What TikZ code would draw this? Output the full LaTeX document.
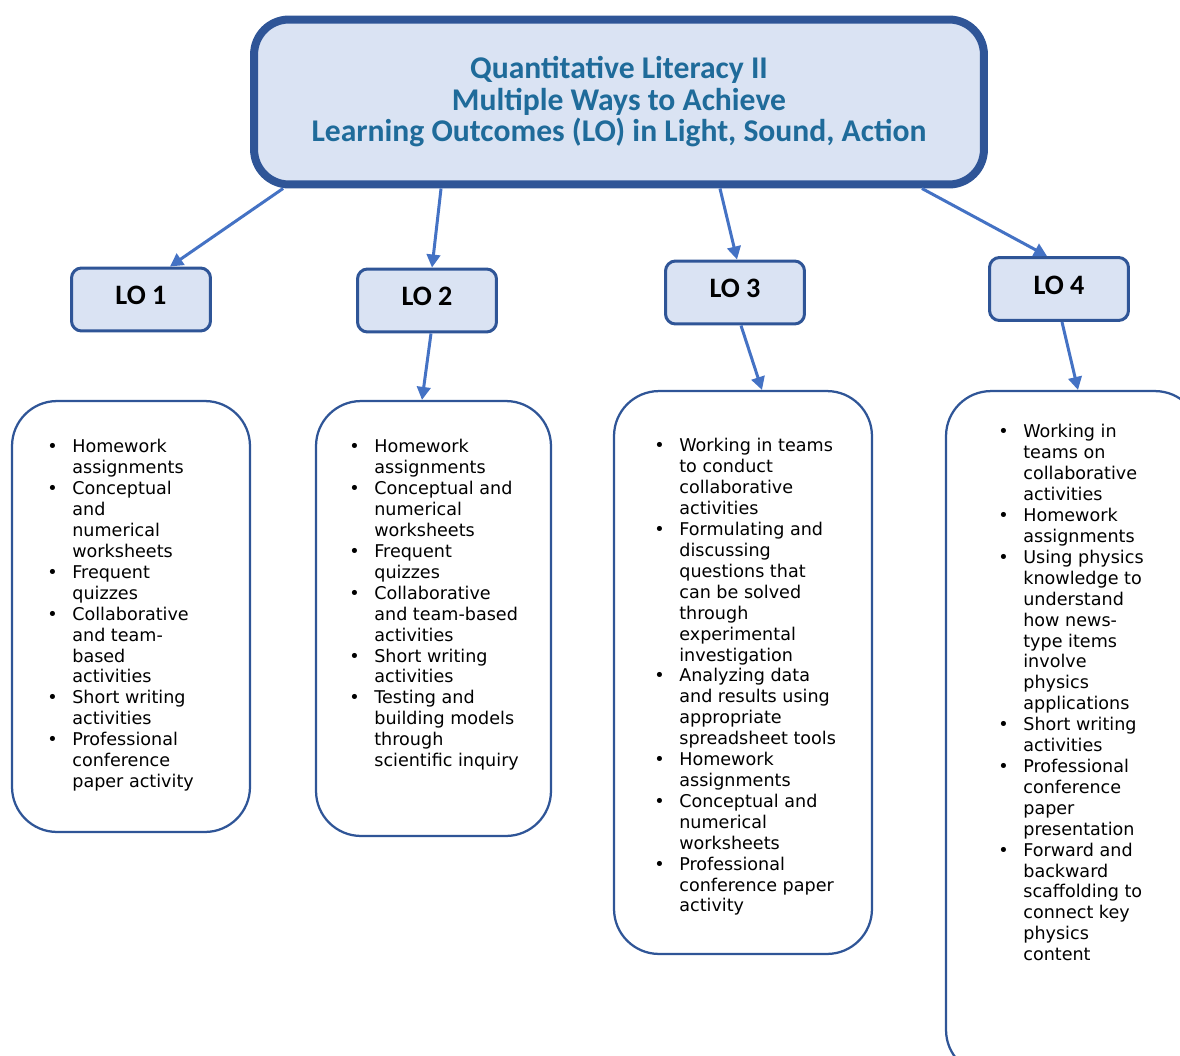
\documentclass[tikz,border=0pt]{standalone}
\usepackage{fontspec}
\setmainfont{DejaVu Sans}
\newfontfamily\calib{Carlito}
\usetikzlibrary{arrows.meta}
\definecolor{titlefill}{HTML}{DAE3F3}
\definecolor{darkblue}{HTML}{2F5597}
\definecolor{arrowblue}{HTML}{4472C4}
\definecolor{titletext}{HTML}{1F6B9A}
\newcommand{\bul}{\textbullet}
\tikzset{
	titlebox/.style={draw=darkblue,fill=titlefill,line width=0.16cm,rounded corners=0.7cm,
		minimum width=14.6cm,minimum height=3.3cm,align=center,text=titletext,
		font=\calib\bfseries\fontsize{18}{17.9}\selectfont},
	lobox/.style={draw=darkblue,fill=titlefill,line width=0.06cm,rounded corners=0.2cm,
		minimum width=2.78cm,minimum height=1.26cm,text depth=4.5pt,font=\calib\bfseries\fontsize{16}{19}\selectfont},
	listbox/.style={draw=darkblue,fill=white,line width=0.045cm,rounded corners=0.9cm},
	listtext/.style={anchor=north west,inner sep=0pt,font=\fontsize{10}{11.9}\selectfont},
	arr/.style={draw=arrowblue,line width=0.06cm,-{Triangle[length=0.26cm,width=0.27cm]}}
}
\begin{document}
\begin{tikzpicture}[x=0.02cm,y=-0.02cm]
	\useasboundingbox (0,0) rectangle (1180,1055);
	\node[titlebox] (title) at (619,102) {Quantitative Literacy II\\Multiple Ways to Achieve\\Learning Outcomes (LO) in Light, Sound, Action};
	\node[lobox] (lo1) at (141,299.5) {LO 1};
	\node[lobox] (lo2) at (427,300.5) {LO 2};
	\node[lobox] (lo3) at (735,292.5) {LO 3};
	\node[lobox] (lo4) at (1059,289) {LO 4};
	\node[listbox,minimum width=4.76cm,minimum height=8.62cm] (b1) at (131,616.5) {};
	\node[listbox,minimum width=4.7cm,minimum height=8.7cm] (b2) at (433.5,618.5) {};
	\node[listbox,minimum width=5.16cm,minimum height=11.26cm] (b3) at (743,672.5) {};
	\node[listbox,minimum width=5.08cm,minimum height=13.68cm] (b4) at (1073,733) {};
	\node[listtext] (t1) at (47,438) {\begin{tabular}{@{}p{0.5cm}@{}l@{}}
		\bul & Homework\\ & assignments\\
		\bul & Conceptual\\ & and\\ & numerical\\ & worksheets\\
		\bul & Frequent\\ & quizzes\\
		\bul & Collaborative\\ & and team-\\ & based\\ & activities\\
		\bul & Short writing\\ & activities\\
		\bul & Professional\\ & conference\\ & paper activity
	\end{tabular}};
	\node[listtext] (t2) at (349,438) {\begin{tabular}{@{}p{0.5cm}@{}l@{}}
		\bul & Homework\\ & assignments\\
		\bul & Conceptual and\\ & numerical\\ & worksheets\\
		\bul & Frequent\\ & quizzes\\
		\bul & Collaborative\\ & and team-based\\ & activities\\
		\bul & Short writing\\ & activities\\
		\bul & Testing and\\ & building models\\ & through\\ & scientific inquiry
	\end{tabular}};
	\node[listtext] (t3) at (654,437) {\begin{tabular}{@{}p{0.5cm}@{}l@{}}
		\bul & Working in teams\\ & to conduct\\ & collaborative\\ & activities\\
		\bul & Formulating and\\ & discussing\\ & questions that\\ & can be solved\\ & through\\ & experimental\\ & investigation\\
		\bul & Analyzing data\\ & and results using\\ & appropriate\\ & spreadsheet tools\\
		\bul & Homework\\ & assignments\\
		\bul & Conceptual and\\ & numerical\\ & worksheets\\
		\bul & Professional\\ & conference paper\\ & activity
	\end{tabular}};
	\node[listtext] (t4) at (998,423) {\begin{tabular}{@{}p{0.5cm}@{}l@{}}
		\bul & Working in\\ & teams on\\ & collaborative\\ & activities\\
		\bul & Homework\\ & assignments\\
		\bul & Using physics\\ & knowledge to\\ & understand\\ & how news-\\ & type items\\ & involve\\ & physics\\ & applications\\
		\bul & Short writing\\ & activities\\
		\bul & Professional\\ & conference\\ & paper\\ & presentation\\
		\bul & Forward and\\ & backward\\ & scaffolding to\\ & connect key\\ & physics\\ & content
	\end{tabular}};
	\draw[arr] ([xshift=0.66cm]title.south west) -- ([xshift=0.58cm]lo1.north);
	\draw[arr] ([xshift=3.82cm]title.south west) -- ([xshift=0.1cm]lo2.north);
	\draw[arr] ([xshift=9.4cm]title.south west) -- ([xshift=0.04cm]lo3.north);
	\draw[arr] ([xshift=13.44cm]title.south west) -- ([xshift=-0.24cm]lo4.north);
	\draw[arr] ([xshift=0.08cm]lo2.south) -- ([xshift=-0.23cm]b2.north);
	\draw[arr] ([xshift=0.12cm]lo3.south) -- ([xshift=0.38cm]b3.north);
	\draw[arr] ([xshift=0.06cm]lo4.south) -- ([xshift=0.1cm]b4.north);
\end{tikzpicture}
\end{document}
